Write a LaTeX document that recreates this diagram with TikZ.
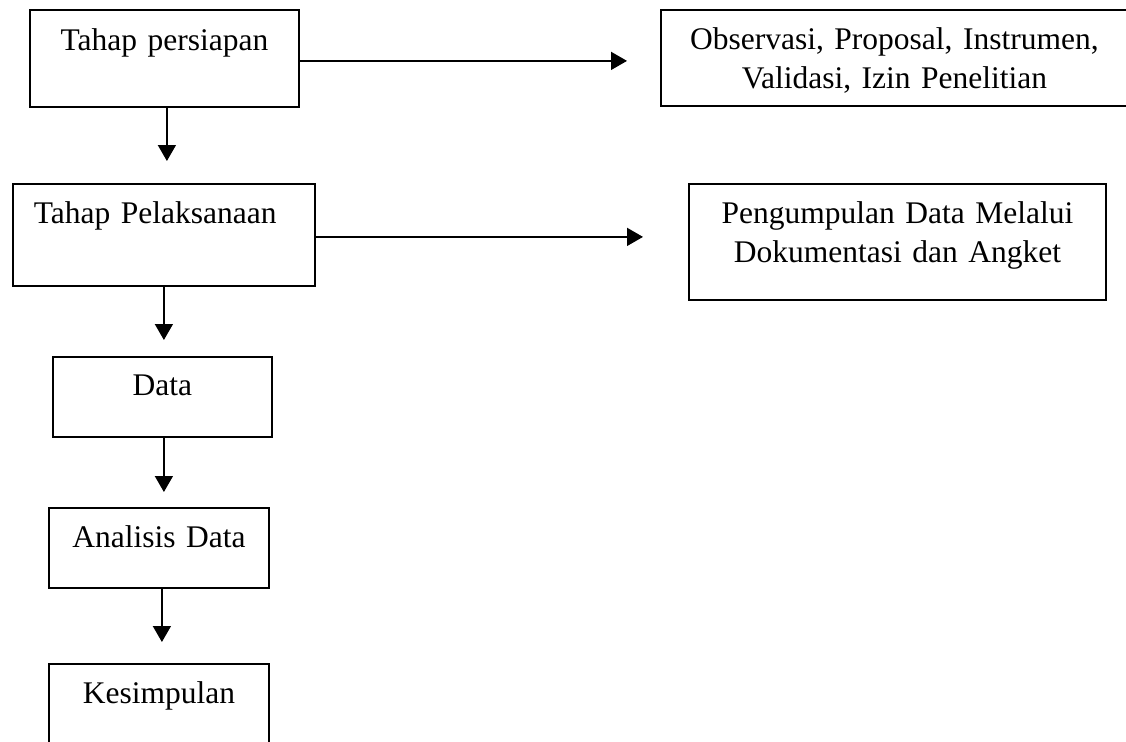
\documentclass[tikz,border=0pt]{standalone}
\usepackage{fontspec}
\setmainfont{Liberation Serif}
\usetikzlibrary{arrows.meta,calc}
\tikzset{
  box/.style={draw, line width=1.8pt, inner sep=0pt, anchor=north west, align=center,
    font=\fontsize{31.5}{38.5}\selectfont},
  arr/.style={line width=1.6pt, -{Triangle[length=16pt,width=18pt]}}
}
\begin{document}
\begin{tikzpicture}[x=1pt,y=-1pt]
\useasboundingbox (0,0) rectangle (1126,741);
\node[box, text width=269pt, text height=41pt, text depth=56pt] (b1) at (29,9) {Tahap persiapan};
\node[box, text width=467pt, text height=40pt, text depth=56pt] (b2) at (660,9) {Observasi, Proposal, Instrumen,\\Validasi, Izin Penelitian};
\node[box, inner xsep=21pt, align=left, text width=260pt, text height=40pt, text depth=62pt] (b3) at (12,183) {Tahap Pelaksanaan};
\node[box, text width=417pt, text height=40pt, text depth=76pt] (b4) at (688,183) {Pengumpulan Data Melalui\\Dokumentasi dan Angket};
\node[box, text width=219pt, text height=39pt, text depth=41pt] (b5) at (52,356) {Data};
\node[box, text width=220pt, text height=40pt, text depth=40pt] (b6) at (48,507) {Analisis Data};
\node[box, text width=220pt, text height=40pt, text depth=60pt] (b7) at (48,663) {Kesimpulan};
\draw[arr, shorten >=33pt] ([yshift=-2.5pt]b1.east) -- ([yshift=-2.5pt]b1.east -| b2.west);
\draw[arr, shorten >=45pt] ([yshift=-2pt]b3.east) -- ([yshift=-2pt]b3.east -| b4.west);
\draw[arr, shorten >=22pt] ([xshift=2.5pt]b1.south) -- ([xshift=2.5pt]b1.south |- b3.north);
\draw[arr, shorten >=16pt] (b3.south) -- (b3.south |- b5.north);
\draw[arr, shorten >=15pt] ([xshift=1.5pt]b5.south) -- ([xshift=1.5pt]b5.south |- b6.north);
\draw[arr, shorten >=21pt] ([xshift=3pt]b6.south) -- ([xshift=3pt]b6.south |- b7.north);
\end{tikzpicture}
\end{document}
